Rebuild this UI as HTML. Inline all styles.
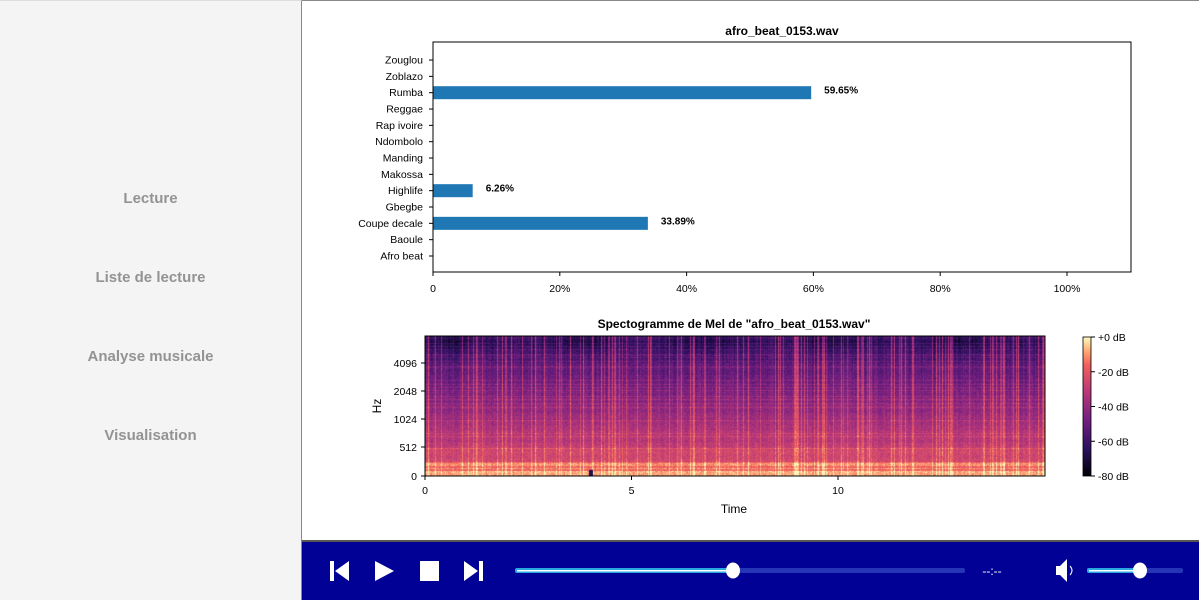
<!DOCTYPE html>
<html><head><meta charset="utf-8"><style>
*{margin:0;padding:0;box-sizing:border-box}
body{width:1199px;height:600px;overflow:hidden;background:#fff;font-family:"Liberation Sans","DejaVu Sans",sans-serif;position:relative}
#side{position:absolute;left:0;top:0;width:302px;height:600px;background:#f4f4f4;border-right:1px solid #888;border-top:1px solid #ddd}
.mi{position:absolute;left:0;width:301px;text-align:center;font-weight:bold;font-size:15px;color:#939393}
#main{position:absolute;left:302px;top:0;width:897px;height:540px;background:#fff;border-top:1px solid #888}
#player{position:absolute;left:302px;top:540px;width:897px;height:60px;background:#010195;border-top:2px solid #555}
</style></head><body>
<div id="side">
<div class="mi" style="top:189px">Lecture</div>
<div class="mi" style="top:268px">Liste de lecture</div>
<div class="mi" style="top:347px">Analyse musicale</div>
<div class="mi" style="top:426px">Visualisation</div>
</div>
<div id="main"></div>
<svg id="chart" width="1199" height="540" style="position:absolute;left:0;top:0" font-family="Liberation Sans, DejaVu Sans, sans-serif">
<text x="782" y="35" text-anchor="middle" font-size="12" font-weight="bold">afro_beat_0153.wav</text>
<g id="bars"></g>
<rect x="433" y="42" width="698" height="230" fill="none" stroke="#000" stroke-width="1"/>
<text x="734" y="328" text-anchor="middle" font-size="12" font-weight="bold">Spectogramme de Mel de "afro_beat_0153.wav"</text>
<foreignObject x="425" y="336" width="620" height="140"><canvas xmlns="http://www.w3.org/1999/xhtml" id="spec" width="620" height="140" style="display:block"></canvas></foreignObject>
<rect x="425" y="336" width="620" height="140" fill="none" stroke="#000"/>
<g id="spaxes"></g>
<text x="734" y="513" text-anchor="middle" font-size="12">Time</text>
<text x="381" y="406" text-anchor="middle" font-size="12" transform="rotate(-90 381 406)">Hz</text>
<defs><linearGradient id="mg" x1="0" y1="1" x2="0" y2="0">
<stop offset="0" stop-color="#000004"/><stop offset="0.2" stop-color="#2c115f"/><stop offset="0.4" stop-color="#721f81"/><stop offset="0.6" stop-color="#b73779"/><stop offset="0.8" stop-color="#f1605d"/><stop offset="0.9" stop-color="#feaa74"/><stop offset="1" stop-color="#fcfdbf"/></linearGradient></defs>
<rect x="1083" y="337" width="8" height="139" fill="url(#mg)" stroke="#000" stroke-width="0.8"/>
<g id="cbticks"></g>
</svg>
<div id="player">
<svg width="897" height="58" style="position:absolute;left:0;top:0">
<g fill="#fff">
<g><rect x="28" y="19" width="4" height="20"/><polygon points="47,19 47,39 33,29"/></g>
<polygon points="73,19 73,39 92,29"/>
<rect x="118" y="19" width="19" height="20"/>
<g><polygon points="162,19 162,39 176,29"/><rect x="177" y="19" width="4" height="20"/></g>
</g>
<rect x="213" y="26" width="450" height="5" rx="2" fill="#2535b5"/>
<rect x="213" y="26" width="218" height="5" rx="2" fill="#29a8e0"/>
<rect x="215" y="28" width="216" height="1.5" fill="#fff"/>
<ellipse cx="431" cy="28.5" rx="7" ry="8" fill="#fff"/>
<text x="690" y="33" text-anchor="middle" font-size="12" fill="#fff">--:--</text>
<g fill="#fff"><rect x="754" y="24" width="4" height="9"/><polygon points="758,24 765,17 765,40 758,33"/><path d="M768,24 Q772,28.5 768,33" stroke="#fff" fill="none"/></g>
<rect x="785" y="26" width="96" height="5" rx="2" fill="#2535b5"/>
<rect x="785" y="26" width="53" height="5" rx="2" fill="#29a8e0"/>
<rect x="787" y="28" width="51" height="1.5" fill="#fff"/>
<ellipse cx="838" cy="28.5" rx="7" ry="8" fill="#fff"/>
</svg>
</div>
<script>
const categories=["Afro beat","Baoule","Coupe decale","Gbegbe","Highlife","Makossa","Manding","Ndombolo","Rap ivoire","Reggae","Rumba","Zoblazo","Zouglou"];
const values=[0,0,33.89,0,6.26,0,0,0,0,0,59.65,0,0];
const xTicks=[0,20,40,60,80,100];
const timeTicks=[0,5,10];
const hzTicks=[0,512,1024,2048,4096];
const dbTicks=[0,-20,-40,-60,-80];
const NS="http://www.w3.org/2000/svg";
function mk(tag,attrs,parent,txt){const e=document.createElementNS(NS,tag);for(const k in attrs)e.setAttribute(k,attrs[k]);if(txt!==undefined)e.textContent=txt;parent.appendChild(e);return e;}
const X=v=>433+v*6.34;
const Y=i=>256-i*16.33;
const bars=document.getElementById('bars');
categories.forEach((c,i)=>{
 const y=Y(i);
 mk('line',{x1:429,x2:433,y1:y,y2:y,stroke:'#000'},bars);
 const t=mk('text',{x:423,y:y+3.5,'text-anchor':'end','font-size':'10.5'},bars,c);
 
 
 if(values[i]>0){
  const r=mk('rect',{x:433,y:y-6.5,width:X(values[i])-433,height:13,fill:'#1f77b4'},bars);
  
  
  const l=mk('text',{x:X(values[i])+13,y:y+1,'font-size':'10','font-weight':'bold'},bars,values[i].toFixed(2)+'%');
  
  
 }
});
xTicks.forEach(v=>{
 mk('line',{x1:X(v),x2:X(v),y1:272,y2:276,stroke:'#000'},bars);
 const t=mk('text',{x:X(v),y:292,'text-anchor':'middle','font-size':'10.5'},bars,v===0?'0':v+'%');
 
 
});
const sp=document.getElementById('spaxes');
const TX=t=>425+t*41.3;
timeTicks.forEach(v=>{
 mk('line',{x1:TX(v),x2:TX(v),y1:476,y2:480,stroke:'#000'},sp);
 const t=mk('text',{x:TX(v),y:494,'text-anchor':'middle','font-size':'10.5'},sp,String(v));
 
 
});
const HY=h=>h===0?476:447-Math.log2(h/512)*28;
hzTicks.forEach(v=>{
 const y=HY(v);
 mk('line',{x1:421,x2:425,y1:y,y2:y,stroke:'#000'},sp);
 const t=mk('text',{x:417,y:y+4,'text-anchor':'end','font-size':'10.5'},sp,String(v));
 
 
});
const cb=document.getElementById('cbticks');
dbTicks.forEach(v=>{
 const y=337+(-v/80)*139;
 mk('line',{x1:1091,x2:1095,y1:y,y2:y,stroke:'#000'},cb);
 const t=mk('text',{x:1098,y:y+4,'font-size':'10.5'},cb,(v===0?'+0':v)+' dB');
 
 
});
// spectrogram texture (deterministic)
const stops=[[0,0,0,4],[0.2,44,17,95],[0.4,114,31,129],[0.6,183,55,121],[0.8,241,96,93],[0.9,254,170,116],[1,252,253,191]];
function mag(v){v=Math.max(0,Math.min(1,v));for(let i=1;i<stops.length;i++){if(v<=stops[i][0]){const a=stops[i-1],b=stops[i],f=(v-a[0])/(b[0]-a[0]);return[a[1]+(b[1]-a[1])*f,a[2]+(b[2]-a[2])*f,a[3]+(b[3]-a[3])*f];}}return[252,253,191];}
let s=12345;function rnd(){s=(s*1103515245+12345)&0x7fffffff;return s/0x7fffffff;}
const cv=document.getElementById('spec'),ctx=cv.getContext('2d'),W=620,H=140;
const img=ctx.createImageData(W,H);
const col=[];for(let x=0;x<W;x++){col.push(rnd()<0.2?0.14+rnd()*0.12:(rnd()-0.6)*0.08);}
const row=[];for(let y=0;y<H;y++){row.push(rnd()<0.18?0.07:(rnd()-0.5)*0.04);}
for(let y=0;y<H;y++){const f=1-y/H;
 for(let x=0;x<W;x++){
  let base=0.74-0.5*f;
  if(f>0.8)base-=0.12*(f-0.8)/0.2*(0.6+0.4*Math.sin(x*0.05));
  if(f<0.04)base=0.9;else if(f<0.1)base=0.8;else if(f<0.2)base=0.68;
  let v=base+col[x]*(0.5+f)+row[y]+(rnd()-0.5)*0.12;
  if(x>163&&x<168&&f<0.05)v=0.15;
  const c=mag(v),k=(y*W+x)*4;img.data[k]=c[0];img.data[k+1]=c[1];img.data[k+2]=c[2];img.data[k+3]=255;}}
ctx.putImageData(img,0,0);
</script>
</body></html>
